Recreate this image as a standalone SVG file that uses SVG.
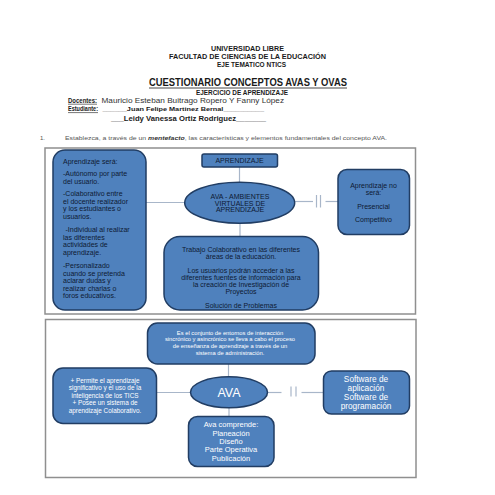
<svg xmlns="http://www.w3.org/2000/svg" width="495" height="495" viewBox="0 0 495 495">
<style>
text{font-family:"Liberation Sans",Arial,sans-serif}
.h{font-weight:bold;fill:#1a1a1a;text-anchor:middle}
.frame{fill:none;stroke:#8f8f8f;stroke-width:1.5}
.node{fill:#4f81bd;stroke:#213d63;stroke-width:1.5}
.dk{fill:#0e1a33;font-size:7px}
.wt{fill:#ffffff}
.c{text-anchor:middle}
.ln{stroke:#a8b6c9;stroke-width:1.2;fill:none}
</style>
<rect width="495" height="495" fill="#ffffff"/>
<g id="header">
<text class="h" x="247.5" y="51" font-size="7.5" textLength="73" lengthAdjust="spacingAndGlyphs">UNIVERSIDAD LIBRE</text>
<text class="h" x="247.5" y="59" font-size="7.5" textLength="157" lengthAdjust="spacingAndGlyphs">FACULTAD DE CIENCIAS DE LA EDUCACIÓN</text>
<text class="h" x="251.5" y="67" font-size="7.5" textLength="69" lengthAdjust="spacingAndGlyphs">EJE TEMATICO NTICS</text>
<text class="h" x="248" y="86" font-size="10.5" textLength="198" lengthAdjust="spacingAndGlyphs">CUESTIONARIO CONCEPTOS AVAS Y OVAS</text>
<line x1="149" y1="88" x2="347" y2="88" stroke="#1a1a1a" stroke-width="0.8"/>
<text class="h" x="242" y="95" font-size="7.2" textLength="92" lengthAdjust="spacingAndGlyphs">EJERCICIO DE APRENDIZAJE</text>
<text x="68" y="102.8" font-size="7.5" font-weight="bold" fill="#1a1a1a" textLength="29" lengthAdjust="spacingAndGlyphs">Docentes:</text>
<line x1="68" y1="104.2" x2="97" y2="104.2" stroke="#1a1a1a" stroke-width="0.6"/>
<text x="101.5" y="102.8" font-size="7.5" fill="#333" textLength="182.5" lengthAdjust="spacingAndGlyphs">Mauricio Esteban Buitrago Ropero Y Fanny López</text>
<text x="68" y="111.3" font-size="7" font-weight="bold" fill="#1a1a1a" textLength="30" lengthAdjust="spacingAndGlyphs">Estudiante:</text>
<line x1="68" y1="112.6" x2="98" y2="112.6" stroke="#1a1a1a" stroke-width="0.6"/>
<text x="102.5" y="111.3" font-size="6" font-weight="bold" fill="#1a1a1a" textLength="161.5" lengthAdjust="spacingAndGlyphs">______Juan Felipe Martinez Bernal__________</text>
<text x="111" y="121" font-size="8" font-weight="bold" fill="#1a1a1a" textLength="155" lengthAdjust="spacingAndGlyphs">___Leidy Vanessa Ortiz Rodriguez_______</text>
<text x="40" y="139.5" font-size="6" fill="#555">1.</text>
<text x="65" y="139.5" font-size="6" fill="#555" textLength="322" lengthAdjust="spacingAndGlyphs">Establezca, a través de un <tspan font-weight="bold" font-style="italic" fill="#333">mentefacto</tspan>, las características y elementos fundamentales del concepto AVA.</text>
</g>
<g id="frames">
<rect class="frame" x="45" y="148" width="370.5" height="166"/>
<rect class="frame" x="45.5" y="319.5" width="370.5" height="158"/>
</g>
<g id="connectors">
<line class="ln" x1="239.5" y1="167" x2="239.5" y2="183"/>
<line class="ln" x1="145.5" y1="202.5" x2="185" y2="202.5"/>
<line class="ln" x1="240" y1="223" x2="240" y2="236.5"/>
<line class="ln" x1="294.5" y1="201.5" x2="313" y2="201.5"/>
<line class="ln" x1="316.5" y1="195" x2="316.5" y2="207.5"/>
<line class="ln" x1="320.5" y1="195" x2="320.5" y2="207.5"/>
<line class="ln" x1="325.5" y1="201.5" x2="338" y2="201.5"/>
<line class="ln" x1="228.5" y1="364" x2="228.5" y2="377"/>
<line class="ln" x1="156.5" y1="392.5" x2="191" y2="392.5"/>
<line class="ln" x1="229" y1="407.5" x2="229" y2="416.5"/>
<line class="ln" x1="267.5" y1="392.5" x2="281.5" y2="392.5"/>
<line class="ln" x1="291" y1="386.5" x2="291" y2="396.5"/>
<line class="ln" x1="296" y1="386.5" x2="296" y2="396.5"/>
<line class="ln" x1="301.5" y1="392.5" x2="323" y2="392.5"/>
</g>
<g id="n-aprendizaje-sera">
<rect class="node" x="53" y="150" width="93" height="160" rx="12"/>
<text class="dk" x="63" y="164">Aprendizaje será:</text>
<text class="dk" x="63" y="176">-Autónomo por parte</text>
<text class="dk" x="63" y="183.5">del usuario.</text>
<text class="dk" x="63" y="196">-Colaborativo entre</text>
<text class="dk" x="63" y="203.5">el docente realizador</text>
<text class="dk" x="63" y="211">y los estudiantes o</text>
<text class="dk" x="63" y="218.5">usuarios.</text>
<text class="dk" x="65.5" y="232">-Individual al realizar</text>
<text class="dk" x="63" y="239.5">las diferentes</text>
<text class="dk" x="63" y="247">actividades de</text>
<text class="dk" x="63" y="254.5">aprendizaje.</text>
<text class="dk" x="63" y="268">-Personalizado</text>
<text class="dk" x="63" y="275.5">cuando se pretenda</text>
<text class="dk" x="63" y="283">aclarar dudas y</text>
<text class="dk" x="63" y="290.5">realizar charlas o</text>
<text class="dk" x="63" y="298">foros educativos.</text>
</g>
<g id="n-aprendizaje">
<rect class="node" x="202" y="154" width="75.5" height="13" rx="2"/>
<text class="dk c" x="239.5" y="162.8" font-size="6.3">APRENDIZAJE</text>
</g>
<g id="n-ava1">
<ellipse class="node" cx="239.7" cy="202.8" rx="55" ry="20.5"/>
<text class="dk c" x="240" y="198.8" font-size="6">AVA  - AMBIENTES</text>
<text class="dk c" x="240" y="205.8" font-size="6">VIRTUALES DE</text>
<text class="dk c" x="240" y="212.3" font-size="6">APRENDIZAJE</text>
</g>
<g id="n-no-sera">
<rect class="node" x="338" y="169.5" width="71.5" height="65" rx="9"/>
<text class="dk c" x="373.5" y="188">Aprendizaje no</text>
<text class="dk c" x="373.5" y="194.8">será:</text>
<text class="dk c" x="373.5" y="208.5">Presencial</text>
<text class="dk c" x="373.5" y="221.5">Competitivo</text>
</g>
<g id="n-trabajo">
<rect class="node" x="164" y="236.5" width="154.5" height="73.5" rx="16"/>
<text class="dk c" x="241" y="251.8">Trabajo Colaborativo en las diferentes</text>
<text class="dk c" x="241" y="259.2">áreas de la educación.</text>
<text class="dk c" x="241" y="272.8">Los usuarios podrán acceder a las</text>
<text class="dk c" x="241" y="279.8">diferentes fuentes de información para</text>
<text class="dk c" x="241" y="287.2">la creación de Investigación de</text>
<text class="dk c" x="241" y="294.2">Proyectos</text>
<text class="dk c" x="241" y="308">Solución de Problemas</text>
</g>
<g id="n-conjunto">
<rect class="node" x="147.5" y="323" width="167.5" height="41" rx="10"/>
<text class="wt c" x="230" y="335" font-size="5.8">Es el conjunto de entornos de interacción</text>
<text class="wt c" x="230" y="341.3" font-size="5.8">sincrónico y asincrónico se lleva a cabo el proceso</text>
<text class="wt c" x="230" y="347.7" font-size="5.8">de enseñanza de aprendizaje a través de un</text>
<text class="wt c" x="230" y="354.7" font-size="5.8">sistema de administración.</text>
</g>
<g id="n-ava2">
<ellipse class="node" cx="229" cy="392.3" rx="38.5" ry="15.5"/>
<text class="wt c" x="229" y="396.5" font-size="12.5">AVA</text>
</g>
<g id="n-permite">
<rect class="node" x="53" y="368" width="103.5" height="55.5" rx="10"/>
<text class="wt c" x="105" y="383.3" font-size="6.4">+ Permite el aprendizaje</text>
<text class="wt c" x="105" y="390.3" font-size="6.4">significativo  y el uso de la</text>
<text class="wt c" x="105" y="397.6" font-size="6.4">inteligencia de los TICS</text>
<text class="wt c" x="105" y="405.3" font-size="6.4">+ Posee un sistema de</text>
<text class="wt c" x="105" y="412.6" font-size="6.4">aprendizaje Colaborativo.</text>
</g>
<g id="n-comprende">
<rect class="node" x="188.5" y="416.5" width="85.5" height="50" rx="9"/>
<text class="wt c" x="231" y="427" font-size="7.5">Ava comprende:</text>
<text class="wt c" x="231" y="436" font-size="7.5">Planeación</text>
<text class="wt c" x="231" y="444.3" font-size="7.5">Diseño</text>
<text class="wt c" x="231" y="452.3" font-size="7.5">Parte Operativa</text>
<text class="wt c" x="231" y="460.6" font-size="7.5">Publicación</text>
</g>
<g id="n-software">
<rect class="node" x="323.5" y="371" width="86" height="43" rx="8"/>
<text class="wt c" x="366" y="382.2" font-size="8.3">Software de</text>
<text class="wt c" x="366" y="391" font-size="8.3">aplicación</text>
<text class="wt c" x="366" y="400" font-size="8.3">Software de</text>
<text class="wt c" x="366" y="408.6" font-size="8.3">programación</text>
</g>
</svg>
